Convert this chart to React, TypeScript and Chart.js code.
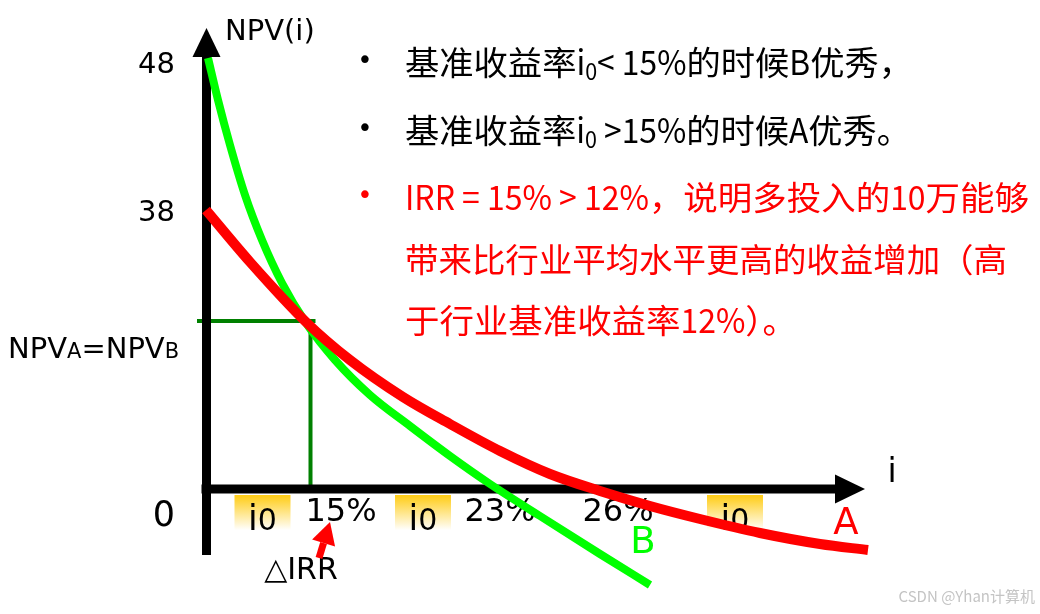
import React, { useEffect, useRef } from "react";
import { Chart, registerables } from "chart.js";

Chart.register(...registerables);

// Sketch units (the original diagram is not drawn to scale)
const curveA_i = [0, 4.4, 10.0, 14.4, 19.7, 24.4, 29.4, 34.4, 39.4, 44.4, 49.4, 55.4, 61.4, 66.2];
const curveA_npv = [27.9, 22.7, 16.7, 12.9, 9.2, 6.5, 3.8, 1.5, -0.2, -1.7, -3.0, -4.4, -5.5, -6.1];
const curveB_i = [0.2, 1.2, 2.4, 3.9, 5.6, 7.6, 10.0, 12.9, 16.4, 20.4, 24.4, 28.4, 33.4, 39.4, 44.4];
const curveB_npv = [43.1, 38.9, 34.4, 29.4, 24.9, 20.6, 16.6, 12.9, 9.4, 6.3, 3.3, 0.5, -2.7, -6.5, -9.6];

const xTickLabels = ["i0", "15%", "i0", "23%", "26%", "i0"];
const xTickValues = [5.65, 13.5, 21.7, 29.4, 41.2, 52.9];
const xTickBoxed = [true, false, true, false, false, true];
const yTickLabels = ["48", "38", "0"];
const yTickValues = [42.4, 27.6, -2.8];
const irrPoint = { i: 10.45, npv: 16.8 };

type Seg = { t: string; sub?: boolean; latin?: boolean };
const noteLines: { segs: Seg[]; color: string; bullet: boolean; width: number }[] = [
  {
    segs: [
      { t: "基准收益率" },
      { t: "i", latin: true },
      { t: "0", sub: true, latin: true },
      { t: "< 15%", latin: true },
      { t: "的时候" },
      { t: "B", latin: true },
      { t: "优秀，" },
    ],
    color: "#000000",
    bullet: true,
    width: 508,
  },
  {
    segs: [
      { t: "基准收益率" },
      { t: "i", latin: true },
      { t: "0", sub: true, latin: true },
      { t: " >15%", latin: true },
      { t: "的时候" },
      { t: "A", latin: true },
      { t: "优秀。" },
    ],
    color: "#000000",
    bullet: true,
    width: 506,
  },
  {
    segs: [
      { t: "IRR = 15% > 12%", latin: true },
      { t: "，说明多投入的" },
      { t: "10", latin: true },
      { t: "万能够" },
    ],
    color: "#FF0000",
    bullet: true,
    width: 624,
  },
  {
    segs: [{ t: "带来比行业平均水平更高的收益增加（高" }],
    color: "#FF0000",
    bullet: false,
    width: 602,
  },
  {
    segs: [{ t: "于行业基准收益率" }, { t: "12%", latin: true }, { t: "）。" }],
    color: "#FF0000",
    bullet: false,
    width: 392,
  },
];
const noteLineY = [62, 130, 197, 259, 320];

const LEFT_FONT = '"DejaVu Sans", Verdana, sans-serif';
const CJK_FONT = '"Noto Sans CJK SC", "Noto Sans", sans-serif';

function drawRich(ctx: CanvasRenderingContext2D, segs: Seg[], x: number, y: number, target: number, size: number) {
  const latinScale = 0.9;
  const fontFor = (s: Seg) => `${s.sub ? Math.round(size * 0.7) : s.latin ? size + 1 : size}px ${CJK_FONT}`;
  const widths = segs.map((s) => {
    ctx.font = fontFor(s);
    return ctx.measureText(s.t).width * (s.latin ? latinScale : 1);
  });
  const total = widths.reduce((a, b) => a + b, 0);
  const k = target / total;
  let cx = x;
  segs.forEach((s, idx) => {
    ctx.font = fontFor(s);
    ctx.save();
    ctx.translate(cx, y + (s.sub ? size * 0.27 : 0));
    ctx.scale(k * (s.latin ? latinScale : 1), 1);
    ctx.fillText(s.t, 0, 0);
    ctx.restore();
    cx += widths[idx] * k;
  });
}

const sketchPlugin = {
  id: "sketch",
  beforeDatasetsDraw(chart: any) {
    const { ctx } = chart;
    const xs = chart.scales.x;
    const ys = chart.scales.y;
    const px = (v: number) => xs.getPixelForValue(v);
    const py = (v: number) => ys.getPixelForValue(v);
    ctx.save();

    // IRR guide lines
    ctx.strokeStyle = "#008000";
    ctx.lineWidth = 4;
    ctx.beginPath();
    ctx.moveTo(px(-0.9), py(irrPoint.npv));
    ctx.lineTo(px(irrPoint.i + 0.5), py(irrPoint.npv));
    ctx.moveTo(px(irrPoint.i), py(irrPoint.npv));
    ctx.lineTo(px(irrPoint.i), py(0));
    ctx.stroke();

    // axes
    ctx.strokeStyle = "#000000";
    ctx.lineWidth = 9;
    ctx.lineCap = "butt";
    ctx.beginPath();
    ctx.moveTo(px(0) + 0.5, py(-6.6));
    ctx.lineTo(px(0) + 0.5, py(43.4));
    ctx.stroke();
    ctx.beginPath();
    ctx.moveTo(px(-0.45), py(0));
    ctx.lineTo(px(63.1), py(0));
    ctx.stroke();
    ctx.fillStyle = "#000000";
    ctx.beginPath();
    ctx.moveTo(px(0) - 13.5, py(43.2));
    ctx.lineTo(px(0) + 14.5, py(43.2));
    ctx.lineTo(px(0) + 0.5, py(46.1));
    ctx.closePath();
    ctx.fill();
    ctx.beginPath();
    ctx.moveTo(px(62.9), py(0) - 14.5);
    ctx.lineTo(px(62.9), py(0) + 14.5);
    ctx.lineTo(px(65.9), py(0));
    ctx.closePath();
    ctx.fill();

    // x tick labels
    ctx.textBaseline = "middle";
    ctx.textAlign = "center";
    xTickLabels.forEach((lab, k) => {
      const cx = px(xTickValues[k]);
      if (xTickBoxed[k]) {
        const top = py(0) + 6;
        const h = 44;
        const w = 56;
        const g = ctx.createLinearGradient(0, top, 0, top + h);
        g.addColorStop(0, "#FFCC14");
        g.addColorStop(0.8, "#FFFFFF");
        g.addColorStop(1, "#FFFFFF");
        ctx.fillStyle = g;
        ctx.fillRect(cx - w / 2, top, w, h);
        // "i" tall, "0" slightly smaller, on a common baseline
        ctx.fillStyle = "#000000";
        ctx.textBaseline = "alphabetic";
        ctx.textAlign = "left";
        ctx.font = `35px ${LEFT_FONT}`;
        const iw = ctx.measureText(lab[0]).width;
        ctx.font = `30px ${LEFT_FONT}`;
        const zw = ctx.measureText(lab.slice(1)).width;
        const sx = cx - (iw + zw) / 2;
        const base = py(0) + 41;
        ctx.font = `35px ${LEFT_FONT}`;
        ctx.fillText(lab[0], sx, base);
        ctx.font = `30px ${LEFT_FONT}`;
        ctx.fillText(lab.slice(1), sx + iw, base);
        ctx.textBaseline = "middle";
        ctx.textAlign = "center";
      } else {
        ctx.fillStyle = "#000000";
        ctx.font = `32px ${LEFT_FONT}`;
        ctx.fillText(lab, cx, py(0) + 24);
      }
    });

    // y tick labels
    ctx.textAlign = "right";
    yTickLabels.forEach((lab, k) => {
      ctx.font = lab === "0" ? `35px ${LEFT_FONT}` : `29px ${LEFT_FONT}`;
      ctx.fillText(lab, px(0) - 31, py(yTickValues[k]));
    });

    // NPVA=NPVB label
    ctx.textAlign = "left";
    ctx.textBaseline = "alphabetic";
    const base = 358;
    let lx = 8;
    const parts: [string, number][] = [["NPV", 29], ["A", 21], ["=", 29], ["NPV", 29], ["B", 21]];
    parts.forEach(([t, s]) => {
      ctx.font = `${s}px ${LEFT_FONT}`;
      ctx.fillText(t, lx, base);
      lx += ctx.measureText(t).width;
    });

    // axis titles
    ctx.textBaseline = "middle";
    ctx.font = `29px ${LEFT_FONT}`;
    ctx.fillText("NPV(i)", px(0) + 19, 32);
    ctx.textAlign = "center";
    ctx.font = `33px ${LEFT_FONT}`;
    ctx.fillText("i", px(68.6), py(0) - 16);

    // △IRR
    ctx.font = `30px ${LEFT_FONT}`;
    ctx.fillText("△IRR", px(9.5), py(-8.2));
    ctx.restore();
  },
  afterDatasetsDraw(chart: any) {
    const { ctx } = chart;
    const xs = chart.scales.x;
    const ys = chart.scales.y;
    const px = (v: number) => xs.getPixelForValue(v);
    const py = (v: number) => ys.getPixelForValue(v);
    ctx.save();

    // red IRR arrow
    const x0 = px(11.3), y0 = py(-6.9), x1 = px(12.4), y1 = py(-3.3);
    const ang = Math.atan2(y1 - y0, x1 - x0);
    const headLen = 22, headHalf = 12;
    const bx = x1 - headLen * Math.cos(ang);
    const by = y1 - headLen * Math.sin(ang);
    ctx.strokeStyle = "#FF0000";
    ctx.fillStyle = "#FF0000";
    ctx.lineWidth = 7;
    ctx.beginPath();
    ctx.moveTo(x0, y0);
    ctx.lineTo(bx, by);
    ctx.stroke();
    ctx.beginPath();
    ctx.moveTo(x1, y1);
    ctx.lineTo(bx + headHalf * Math.sin(ang), by - headHalf * Math.cos(ang));
    ctx.lineTo(bx - headHalf * Math.sin(ang), by + headHalf * Math.cos(ang));
    ctx.closePath();
    ctx.fill();

    // series names
    ctx.textAlign = "center";
    ctx.textBaseline = "middle";
    ctx.font = `37px ${LEFT_FONT}`;
    ctx.fillStyle = "#FF0000";
    ctx.fillText("A", px(64.0), py(-3.5));
    ctx.fillStyle = "#00FF00";
    ctx.fillText("B", px(43.7), py(-5.4));

    // notes
    ctx.textAlign = "left";
    ctx.textBaseline = "middle";
    noteLines.forEach((line, k) => {
      ctx.fillStyle = line.color;
      if (line.bullet) {
        ctx.font = `26px ${LEFT_FONT}`;
        ctx.textAlign = "center";
        ctx.fillText("•", 365, noteLineY[k]);
        ctx.textAlign = "left";
      }
      drawRich(ctx, line.segs, 405, noteLineY[k], line.width, 33);
    });

    // watermark
    ctx.textAlign = "right";
    ctx.textBaseline = "alphabetic";
    ctx.fillStyle = "#C4C4C4";
    ctx.font = `15px ${CJK_FONT}`;
    ctx.fillText("CSDN @Yhan计算机", 1035, 602);
    ctx.restore();
  },
};

export default function App() {
  const ref = useRef<HTMLCanvasElement | null>(null);
  useEffect(() => {
    if (!ref.current) return;
    const chart = new Chart(ref.current, {
      type: "line",
      data: {
        datasets: [
          {
            label: "A",
            data: curveA_i.map((v, k) => ({ x: v, y: curveA_npv[k] })),
            borderColor: "#FF0000",
            borderWidth: 10,
            pointRadius: 0,
            cubicInterpolationMode: "monotone",
            fill: false,
            clip: false as any,
          },
          {
            label: "B",
            data: curveB_i.map((v, k) => ({ x: v, y: curveB_npv[k] })),
            borderColor: "#00FF00",
            borderWidth: 8,
            pointRadius: 0,
            cubicInterpolationMode: "monotone",
            fill: false,
            clip: false as any,
          },
        ],
      },
      options: {
        responsive: false,
        animation: false,
        events: [],
        layout: { padding: 0, autoPadding: false } as any,
        scales: {
          x: { type: "linear", display: false, min: -20.6, max: 83.4 },
          y: { type: "linear", display: false, min: -12.5, max: 48.9 },
        },
        plugins: { legend: { display: false }, tooltip: { enabled: false } },
      },
      plugins: [sketchPlugin],
    });
    return () => chart.destroy();
  }, []);
  return (
    <div style={{ position: "absolute", left: 0, top: 0, width: 1040, height: 614, background: "#ffffff" }}>
      <canvas ref={ref} width={1040} height={614} />
    </div>
  );
}
